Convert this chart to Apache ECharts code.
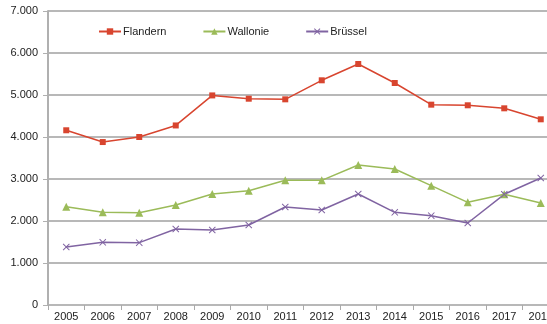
<!DOCTYPE html>
<html>
<head>
<meta charset="utf-8">
<script src="https://cdn.jsdelivr.net/npm/echarts@6/dist/echarts.min.js"></script>
<style>
  html, body { margin: 0; padding: 0; background: #fff; }
  #chart { width: 547px; height: 324px; }
</style>
</head>
<body>
<div id="chart"></div>
<script>
// Years on the category axis
const years = ['2005','2006','2007','2008','2009','2010','2011','2012','2013','2014','2015','2016','2017','2018'];

// Values per region
const flandern = [4160, 3880, 4000, 4275, 4990, 4912, 4897, 5350, 5738, 5286, 4770, 4755, 4683, 4421];
const wallonie = [2340, 2206, 2198, 2380, 2643, 2722, 2968, 2968, 3333, 3238, 2841, 2445, 2636, 2429];
const bruessel = [1381, 1492, 1484, 1810, 1786, 1905, 2333, 2262, 2643, 2206, 2127, 1952, 2636, 3024];

const crossPath = 'path://M0,1L1,0L5,4L9,0L10,1L6,5L10,9L9,10L5,6L1,10L0,9L4,5Z';

const chart = echarts.init(document.getElementById('chart'), null, { renderer: 'canvas' });

function series(name, data, color, symbol, size) {
  return {
    name: name,
    type: 'line',
    data: data,
    symbol: symbol,
    symbolSize: size,
    showAllSymbol: true,
    lineStyle: { color: color, width: 1.5 },
    itemStyle: { color: color },
    emphasis: { disabled: true },
    animation: false
  };
}

chart.setOption({
  animation: false,
  textStyle: { fontFamily: 'Liberation Sans, Arial, sans-serif' },
  // plot area runs past the right edge of the canvas, so the last year is cut off
  grid: { left: 48, width: 511, top: 11, bottom: 19, containLabel: false, outerBoundsMode: 'none' },
  legend: {
    top: 21,
    left: 93,
    itemGap: 36,
    itemWidth: 22,
    itemHeight: 8,
    textStyle: { fontSize: 11, color: '#222', padding: [0, 0, 0, -3] },
    data: ['Flandern', 'Wallonie', 'Brüssel']
  },
  xAxis: {
    type: 'category',
    data: years,
    boundaryGap: true,
    axisLine: { show: false },
    axisTick: { show: true, length: 5, lineStyle: { color: '#aaa', width: 1 } },
    axisLabel: { color: '#222', fontSize: 11, margin: 6, interval: 0, hideOverlap: false },
    splitLine: { show: false }
  },
  yAxis: {
    type: 'value',
    min: 0,
    max: 7000,
    interval: 1000,
    axisLine: { show: true, lineStyle: { color: '#b0b0b0', width: 2 } },
    axisTick: { show: true, length: 5, lineStyle: { color: '#b0b0b0', width: 1 } },
    axisLabel: {
      color: '#222',
      fontSize: 11,
      margin: 10,
      formatter: v => v === 0 ? '0' : (v / 1000).toFixed(3)
    },
    splitLine: { show: true, lineStyle: { color: '#b8b8b8', width: 2 } }
  },
  series: [
    series('Flandern', flandern, '#d8452f', 'rect', 6),
    series('Wallonie', wallonie, '#9bbb59', 'triangle', 8),
    series('Brüssel', bruessel, '#8064a2', crossPath, 7)
  ]
});
</script>
</body>
</html>
